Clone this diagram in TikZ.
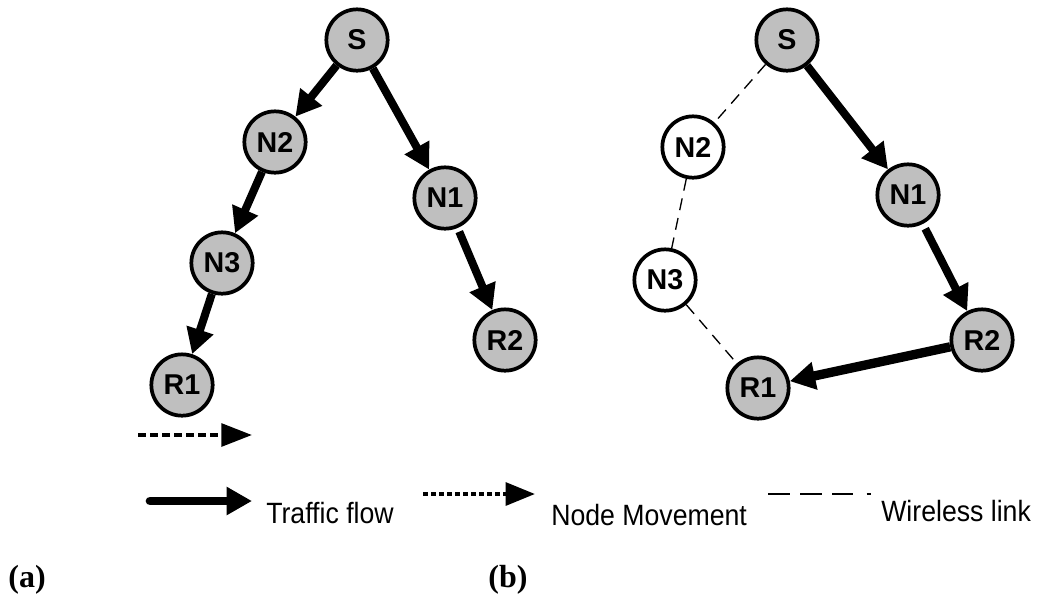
\documentclass[tikz,border=0pt]{standalone}
\usepackage{fontspec}
\setmainfont{Liberation Serif}
\newfontfamily\arialfont{Liberation Sans}
\usetikzlibrary{arrows.meta}

\begin{document}
\begin{tikzpicture}[x=0.75pt,y=-0.75pt,
  host/.style={circle, draw=black, line width=2.8pt, minimum size=46pt,
    inner sep=0pt, fill=black!25,
    font=\arialfont\bfseries\fontsize{21.5}{24}\selectfont},
  idle/.style={host, fill=white},
  flow/.style={line width=6pt, -{Triangle[length=19pt,width=20pt]}},
  radio/.style={line width=1pt, dash pattern=on 9pt off 6pt},
  move/.style={line width=3pt, dash pattern=on 6pt off 3pt,
    -{Triangle[length=23pt,width=17pt]}},
  legend/.style={font=\arialfont\fontsize{20}{22}\selectfont, anchor=base west, inner sep=0pt},
  caption/.style={font=\bfseries\fontsize{24}{26}\selectfont, anchor=base, inner sep=0pt}]

\useasboundingbox (0,0) rectangle (1037,594);

% ---- (a): routes before the movement ----
\node[host] (aS)  at (357,40)  {S};
\node[host] (aN2) at (275,142) {N2};
\node[host] (aN3) at (222,263) {N3};
\node[host] (aR1) at (182,385) {R1};
\node[host] (aN1) at (445,198) {N1};
\node[host] (aR2) at (505,340) {R2};

\draw[flow] (aS) -- (aN2);
\draw[flow] (aN2) -- (aN3);
\draw[flow] (aN3) -- (aR1);
\draw[flow] (aS) -- (aN1);
\draw[flow, shorten <=3pt] (aN1) -- (aR2);

\coordinate (mvA) at (138,435);
\coordinate (mvB) at (252,435);
\draw[move] (mvA) -- (mvB);

% ---- (b): routes after the movement ----
\node[host] (bS)  at (787,40)  {S};
\node[idle] (bN2) at (693,147) {N2};
\node[idle] (bN3) at (665,280) {N3};
\node[host] (bN1) at (908,195) {N1};
\node[host] (bR2) at (982,340) {R2};
\node[host] (bR1) at (758,388) {R1};

\draw[radio] (bS) -- (bN2);
\draw[radio] (bN2) -- (bN3);
\draw[radio] (bN3) -- (bR1);
\draw[flow] (bS) -- (bN1);
\draw[flow, shorten <=4pt] (bN1) -- (bR2);
\draw[flow, line width=7pt] (bR2) -- (bR1);

% ---- legend ----
\coordinate (lgA1) at (150,501);
\coordinate (lgA2) at (252,501);
\draw[line width=6.5pt, line cap=round, -{Triangle[length=19pt,width=20pt]}] (lgA1) -- (lgA2);
\node[legend] (lgT1) at (266,523) {\scalebox{1}[1.1]{Traffic flow}};

\coordinate (lgB1) at (423,494);
\coordinate (lgB2) at (535,494);
\draw[line width=3pt, dash pattern=on 3.5pt off 2.5pt, -{Triangle[length=22pt,width=17pt]}] (lgB1) -- (lgB2);
\node[legend] (lgT2) at (551,525) {\scalebox{1}[1.1]{Node Movement}};

\coordinate (lgC1) at (768,494);
\coordinate (lgC2) at (871,494);
\draw[line width=2pt, dash pattern=on 16.5pt off 7.5pt on 16.5pt off 7.5pt on 16pt off 10pt on 3pt off 10pt] (lgC1) -- (lgC2);
\node[legend] (lgT3) at (881,521) {\scalebox{1}[1.1]{Wireless link}};

% ---- panel captions ----
\node[caption] (capA) at (27,587) {(a)};
\node[caption] (capB) at (508,587) {(b)};
\end{tikzpicture}
\end{document}
